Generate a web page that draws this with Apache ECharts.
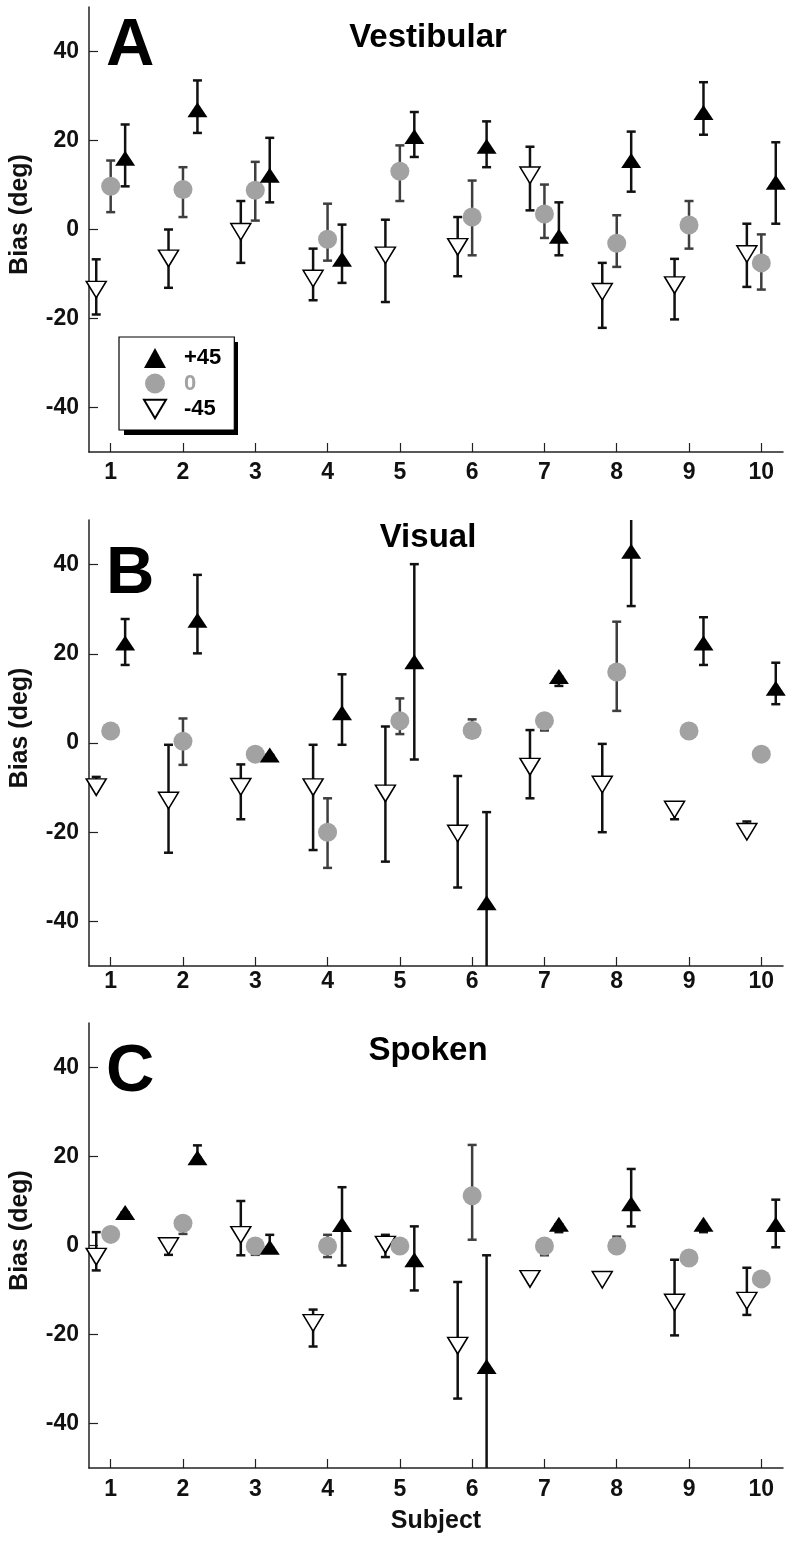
<!DOCTYPE html>
<html><head><meta charset="utf-8">
<script src="https://cdn.jsdelivr.net/npm/echarts@6/dist/echarts.min.js"></script>
<style>html,body{margin:0;padding:0;background:#fff}#c{width:793px;height:1543px}</style>
</head><body><div id="c"></div>
<script>
// ---------- data ----------
const subjects = [1, 2, 3, 4, 5, 6, 7, 8, 9, 10];
const xTickLabels = ['1', '2', '3', '4', '5', '6', '7', '8', '9', '10'];
const yTickValues = [-40, -20, 0, 20, 40];
const panelTitles = ['Vestibular', 'Visual', 'Spoken'];
const panelLetters = ['A', 'B', 'C'];
const conditionNames = ['+45', '0', '-45'];

// A: Vestibular
const vestPlusMean = [16.0, 26.9, 12.2, -6.7, 20.9, 18.7, -1.5, 15.5, 26.3, 10.6];
const vestPlusLo   = [9.7, 21.7, 6.1, -12.0, 16.3, 14.0, -5.8, 8.5, 21.3, 1.3];
const vestPlusHi   = [23.6, 33.5, 20.6, 1.1, 26.4, 24.3, 6.1, 22.0, 33.1, 19.6];
const vestZeroMean = [9.7, 9.0, 8.8, -2.2, 13.1, 2.8, 3.5, -3.1, 1.0, -7.5];
const vestZeroLo   = [3.9, 2.8, 2.0, -7.0, 6.4, -5.8, -1.9, -8.4, -4.3, -13.5];
const vestZeroHi   = [15.5, 14.0, 15.2, 5.8, 18.9, 11.0, 10.1, 3.2, 6.4, -1.1];
const vestMinusMean = [-13.5, -6.5, -0.5, -11.0, -5.8, -3.9, 12.2, -14.0, -12.5, -5.5];
const vestMinusLo   = [-19.1, -13.1, -7.5, -15.9, -16.3, -10.5, 4.3, -22.1, -20.2, -12.9];
const vestMinusHi   = [-6.7, 0.0, 6.4, -4.3, 2.2, 2.8, 18.6, -7.5, -6.6, 1.3];

// B: Visual
const visPlusMean = [22.4, 27.5, -2.7, 6.8, 18.2, -35.8, 14.9, 43.0, 22.4, 12.3];
const visPlusLo   = [17.5, 20.1, -2.7, -0.4, -3.7, -60.0, 12.8, 30.7, 17.5, 8.7];
const visPlusHi   = [27.8, 37.7, -2.7, 15.4, 40.1, -15.5, 14.9, 53.0, 28.2, 18.0];
const visZeroMean = [2.7, 0.4, -2.5, -20.0, 5.0, 2.8, 5.0, 15.9, 2.7, -2.5];
const visZeroLo   = [2.7, -4.9, -2.5, -28.0, 2.0, 2.0, 2.8, 7.2, 2.7, -2.5];
const visZeroHi   = [2.7, 5.5, -2.5, -12.4, 10.0, 5.3, 5.0, 27.2, 2.7, -2.5];
const visMinusMean = [-9.9, -12.9, -9.8, -9.9, -11.3, -20.3, -5.3, -9.3, -14.9, -19.9];
const visMinusLo   = [-9.9, -24.6, -17.1, -24.0, -26.6, -32.4, -12.4, -20.0, -17.1, -19.9];
const visMinusHi   = [-7.6, -0.4, -4.8, -0.4, 3.7, -7.4, 2.9, -0.2, -14.9, -17.6];

// C: Spoken
const spokPlusMean = [7.4, 19.7, -0.4, 4.7, -3.2, -27.2, 4.8, 9.4, 4.8, 4.7];
const spokPlusLo   = [7.4, 19.7, -0.4, -4.5, -10.1, -60.0, 3.0, 4.3, 3.0, -0.4];
const spokPlusHi   = [7.4, 22.5, 2.4, 13.1, 4.3, -2.2, 4.8, 17.2, 4.8, 10.3];
const spokZeroMean = [2.5, 5.0, -0.1, -0.1, -0.1, 11.2, -0.1, -0.1, -2.8, -7.5];
const spokZeroLo   = [2.5, 2.6, -2.1, -2.6, -0.1, 1.3, -2.2, -0.1, -2.8, -7.5];
const spokZeroHi   = [2.5, 5.0, -0.1, 2.4, -0.1, 22.6, -0.1, 2.0, -2.8, -7.5];
const spokMinusMean = [-2.5, -0.1, 2.4, -17.4, 0.2, -22.5, -7.5, -7.7, -12.8, -12.4];
const spokMinusLo   = [-5.6, -2.1, -2.2, -22.7, -2.6, -34.4, -7.5, -7.7, -20.2, -15.6];
const spokMinusHi   = [3.0, -0.1, 10.0, -14.4, 2.4, -8.2, -7.5, -7.7, -3.2, -5.0];

const panels = [
  { plus: [vestPlusMean, vestPlusLo, vestPlusHi], zero: [vestZeroMean, vestZeroLo, vestZeroHi], minus: [vestMinusMean, vestMinusLo, vestMinusHi] },
  { plus: [visPlusMean, visPlusLo, visPlusHi], zero: [visZeroMean, visZeroLo, visZeroHi], minus: [visMinusMean, visMinusLo, visMinusHi] },
  { plus: [spokPlusMean, spokPlusLo, spokPlusHi], zero: [spokZeroMean, spokZeroLo, spokZeroHi], minus: [spokMinusMean, spokMinusLo, spokMinusHi] }
];

// ---------- style / layout ----------
const FONT = '"Liberation Sans", Arial, Helvetica, sans-serif';
const GRAY = '#a2a2a2';
const GRAY_BAR = '#3e3e3e';
const INK = '#111';
const AXIS = '#222';
const gridBoxes = [{ top: 7, height: 445 }, { top: 520, height: 446 }, { top: 1023, height: 445 }];
const xLabelMargins = [9, 4, 10];
const titleTops = [21, 521, 1034];
const letterTops = [13, 541, 1039];
const conds = [
  { key: 'minus', name: '-45', dx: -0.2, barColor: INK, symbol: 'path://M0,0L20,0L10,17Z', size: [20, 16.5], item: { color: '#fff', borderColor: '#000', borderWidth: 1.5, opacity: 1 } },
  { key: 'zero', name: '0', dx: 0, barColor: GRAY_BAR, symbol: 'circle', size: 19, item: { color: GRAY, opacity: 1 } },
  { key: 'plus', name: '+45', dx: 0.2, barColor: INK, symbol: 'triangle', size: [20, 15], item: { color: '#000', opacity: 1 } }
];

function renderErr(params, api) {
  const x = api.value(0), lo = api.value(1), hi = api.value(2);
  const a = api.coord([x, hi]), b = api.coord([x, lo]);
  const st = { stroke: api.visual('color'), lineWidth: 2.5 };
  const w = 4.5;
  return { type: 'group', children: [
    { type: 'line', shape: { x1: a[0], y1: a[1], x2: b[0], y2: b[1] }, style: st },
    { type: 'line', shape: { x1: a[0] - w, y1: a[1], x2: a[0] + w, y2: a[1] }, style: st },
    { type: 'line', shape: { x1: b[0] - w, y1: b[1], x2: b[0] + w, y2: b[1] }, style: st }
  ] };
}

const grid = [], xAxis = [], yAxis = [], series = [], title = [];
gridBoxes.forEach((g, p) => {
  grid.push({ left: 85, width: 698, top: g.top, height: g.height });
  xAxis.push({
    type: 'value', gridIndex: p, min: 0.7, max: 10.3,
    name: p === 2 ? 'Subject' : '', nameLocation: 'middle', nameGap: 41,
    nameTextStyle: { fontSize: 25, fontWeight: 'bold', color: INK, fontFamily: FONT },
    axisLine: { show: true, onZero: false, lineStyle: { color: AXIS, width: 1.5 } },
    axisTick: { show: true, inside: true, length: 9, customValues: subjects, lineStyle: { color: AXIS, width: 1.2 } },
    axisLabel: { show: true, margin: xLabelMargins[p], customValues: subjects,
      formatter: v => xTickLabels[subjects.indexOf(v)] ?? '',
      fontSize: 23, fontWeight: 'bold', color: INK, fontFamily: FONT },
    splitLine: { show: false }
  });
  yAxis.push({
    type: 'value', gridIndex: p, min: -50, max: 50,
    name: 'Bias (deg)', nameLocation: 'middle', nameGap: 56,
    nameTextStyle: { fontSize: 25, fontWeight: 'bold', color: INK, fontFamily: FONT, padding: [0, 0, 0, 30] },
    axisLine: { show: true, onZero: false, lineStyle: { color: AXIS, width: 1.5 } },
    axisTick: { show: true, inside: true, length: 9, customValues: yTickValues, lineStyle: { color: AXIS, width: 1.2 } },
    axisLabel: { show: true, margin: 10, customValues: yTickValues,
      fontSize: 23, fontWeight: 'bold', color: INK, fontFamily: FONT },
    splitLine: { show: false }
  });
  title.push({ text: panelLetters[p], left: 106, top: letterTops[p], padding: 0,
    textStyle: { fontSize: 67, fontWeight: 'bold', color: '#000', fontFamily: FONT } });
  title.push({ text: panelTitles[p], left: 428, textAlign: 'center', top: titleTops[p], padding: 0,
    textStyle: { fontSize: 33, fontWeight: 'bold', color: '#000', fontFamily: FONT } });

  const panel = panels[p];
  conds.forEach(c => {
    const [mean, lo, hi] = panel[c.key];
    series.push({
      type: 'custom', name: 'err ' + c.name + ' ' + p, xAxisIndex: p, yAxisIndex: p,
      renderItem: renderErr, clip: true, silent: true, z: 1,
      itemStyle: { color: c.barColor },
      encode: { x: 0, y: [1, 2] },
      data: subjects.map((s, i) => [s + c.dx, lo[i], hi[i]])
    });
  });
  conds.forEach(c => {
    const mean = panel[c.key][0];
    series.push({
      type: 'scatter', name: c.name, xAxisIndex: p, yAxisIndex: p, silent: true, z: 10,
      symbol: c.symbol, symbolSize: c.size, itemStyle: c.item,
      data: subjects.map((s, i) => [s + c.dx, mean[i]])
    });
  });
});

const chart = echarts.init(document.getElementById('c'), null, { renderer: 'canvas' });
chart.setOption({
  animation: false,
  backgroundColor: '#fff',
  title, grid, xAxis, yAxis, series,
  tooltip: { show: false },
  graphic: [{ type: 'rect', z: 0, silent: true,
    shape: { x: 124, y: 342, width: 114, height: 93 }, style: { fill: '#000' } }],
  legend: {
    data: [
      { name: conditionNames[0], textStyle: { color: '#000' } },
      { name: conditionNames[1], textStyle: { color: GRAY } },
      { name: conditionNames[2], textStyle: { color: '#000' } }
    ],
    orient: 'vertical', left: 119, top: 337, padding: [10, 13, 10, 24], z: 5,
    itemWidth: 22, itemHeight: 20, itemGap: 3.5, selectedMode: false,
    backgroundColor: '#fff', borderColor: '#000', borderWidth: 1.2,
    textStyle: { fontSize: 22, fontWeight: 'bold', fontFamily: FONT, padding: [0, 0, 0, 13] }
  }
});
</script></body></html>
